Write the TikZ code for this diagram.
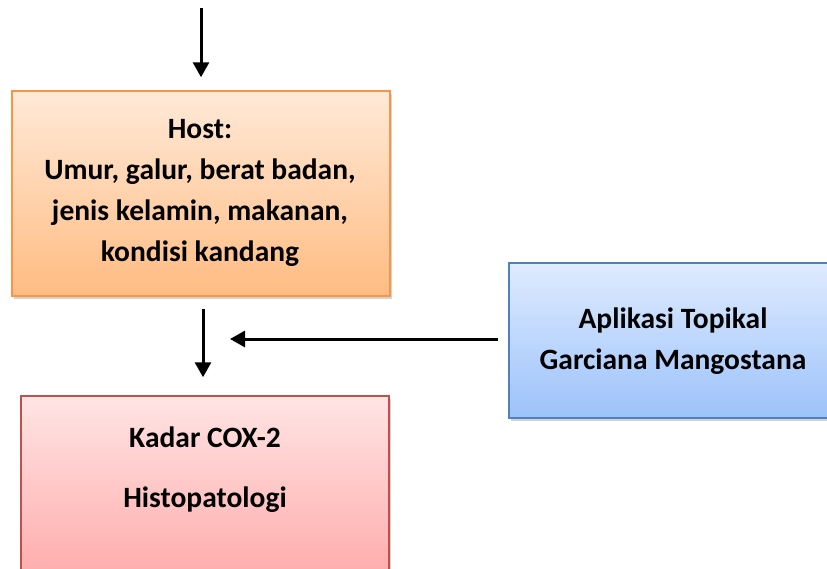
\documentclass[tikz,border=0pt]{standalone}
\usepackage{fontspec}
\setmainfont{Carlito}
\usetikzlibrary{arrows.meta,shadows}
\definecolor{orBorder}{HTML}{F79646}
\definecolor{orTop}{HTML}{FFE9D8}
\definecolor{orBot}{HTML}{FFBC82}
\definecolor{rdBorder}{HTML}{C0504D}
\definecolor{rdTop}{HTML}{FFE4E4}
\definecolor{rdBot}{HTML}{FF9C9C}
\definecolor{blBorder}{HTML}{4F81BD}
\definecolor{blTop}{HTML}{DFEBFF}
\definecolor{blBot}{HTML}{9CC2F9}
\tikzset{
  boxbase/.style={rectangle, draw, line width=1.5pt, inner sep=0pt,
    drop shadow={shadow xshift=2pt, shadow yshift=-3pt, opacity=0.35}},
  orbox/.style={boxbase, draw=orBorder, top color=orTop, bottom color=orBot},
  rdbox/.style={boxbase, draw=rdBorder, top color=rdTop, bottom color=rdBot},
  blbox/.style={boxbase, draw=blBorder, top color=blTop, bottom color=blBot},
  label/.style={font=\fontsize{29.5}{41}\selectfont\bfseries, align=center, inner sep=0pt},
  arr/.style={line width=3pt, -{Triangle[width=16pt,length=15pt]}}
}
\begin{document}
\begin{tikzpicture}[x=1pt,y=-1pt]
\useasboundingbox (0,0) rectangle (827,568);
\clip (0,0) rectangle (827,568);
% boxes
\node[orbox, minimum width=378pt, minimum height=205pt] (host) at (201,193.5) {};
\node[rdbox, minimum width=368pt, minimum height=230pt] (kadar) at (205,511) {};
\node[blbox, minimum width=328pt, minimum height=155pt] (apl) at (673,340.5) {};
% texts
\node[label] (hosttxt) at (200,193) {Host:\\Umur, galur, berat badan,\\jenis kelamin, makanan,\\kondisi kandang};
\node[label] (kadtxt) at (205,437) {Kadar COX-2};
\node[label] (histtxt) at (205,500) {Histopatologi};
\node[label] (apltxt) at (673,341) {Aplikasi Topikal\\Garciana Mangostana};
% arrows
\coordinate (topin) at (201,8);
\coordinate (mid) at (203,0);
\coordinate (hin) at (230,339);
\draw[arr, shorten >=13pt] (topin) -- (host.north -| topin);
\draw[arr, shorten <=12pt, shorten >=18pt] (host.south -| mid) -- (kadar.north -| mid);
\draw[arr, shorten <=10pt] (apl.west |- hin) -- (hin);
\end{tikzpicture}
\end{document}
